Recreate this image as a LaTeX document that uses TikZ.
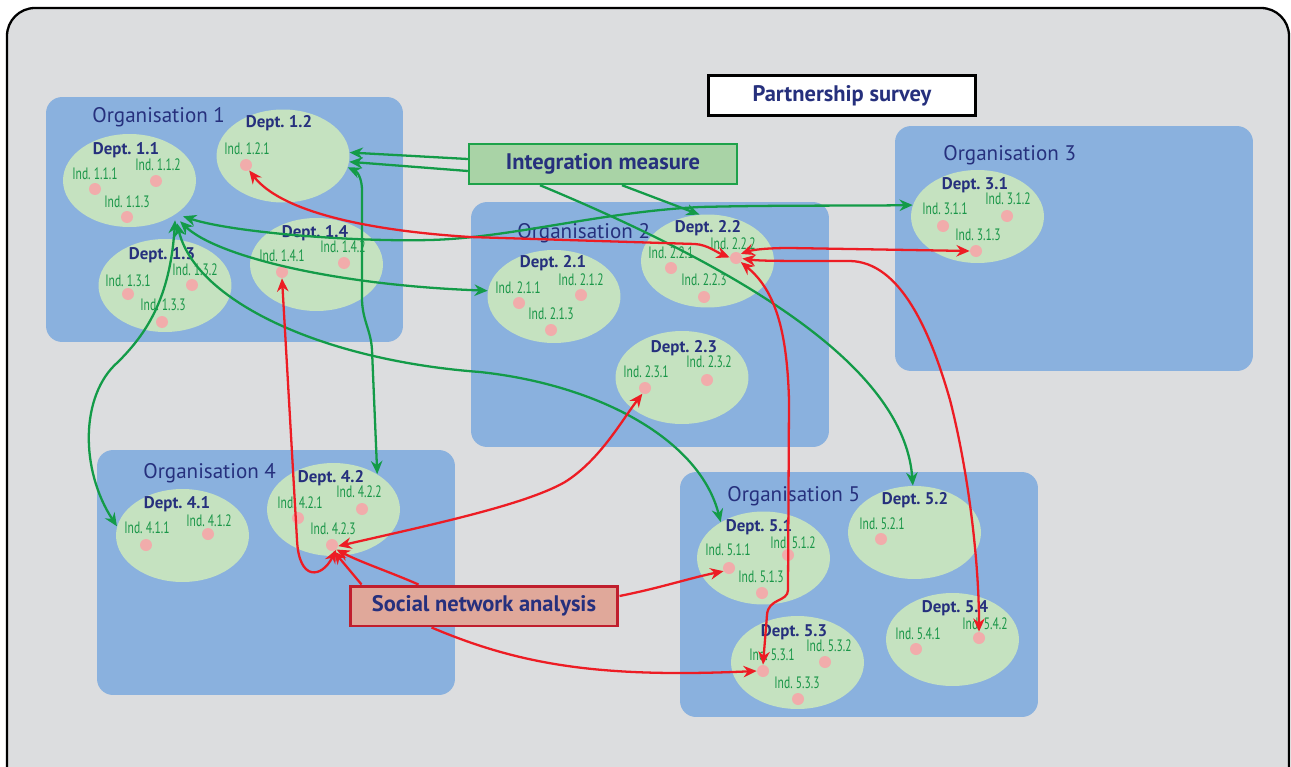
\documentclass[tikz,border=0pt]{standalone}
\usepackage{fontspec}
\setmainfont{PT Sans}
\newfontfamily\condfont[FakeStretch=0.7]{PT Sans}
\frenchspacing
\usetikzlibrary{arrows.meta,shapes.geometric}
\definecolor{bg}{RGB}{220,221,223}
\definecolor{orgblue}{RGB}{138,177,222}
\definecolor{deptgreen}{RGB}{197,226,192}
\definecolor{dotpink}{RGB}{241,172,171}
\definecolor{navy}{RGB}{38,48,125}
\definecolor{indgreen}{RGB}{26,150,72}
\definecolor{lgreen}{RGB}{19,155,72}
\definecolor{lred}{RGB}{237,28,36}
\definecolor{imfill}{RGB}{169,211,166}
\definecolor{imborder}{RGB}{30,162,74}
\definecolor{snafill}{RGB}{224,168,154}
\definecolor{snaborder}{RGB}{192,30,45}
\tikzset{
 orgbox/.style={rectangle, fill=orgblue, rounded corners=0.32cm, minimum width=7.16cm, minimum height=4.9cm, inner sep=0},
 orglab/.style={anchor=base west, inner sep=0, text=navy, font=\fontsize{12}{14}\selectfont},
 dept/.style={ellipse, fill=deptgreen, minimum width=2.66cm, minimum height=1.86cm, inner sep=0},
 deptlab/.style={anchor=base, inner sep=0, text=navy, font=\fontsize{9.6}{11}\selectfont\bfseries},
 dot/.style={circle, fill=dotpink, minimum size=0.24cm, inner sep=0},
 indlab/.style={anchor=base, inner sep=0, text=indgreen, font=\condfont\fontsize{9.4}{10}\selectfont},
 tagbox/.style={rectangle, minimum width=5.36cm, minimum height=0.8cm, inner sep=0, text=navy, font=\fontsize{12.8}{14}\selectfont\bfseries},
 gline/.style={draw=lgreen, line width=1.3pt},
 rline/.style={draw=lred, line width=1.3pt},
 onearrow/.style={-{Stealth[length=7.5pt,width=6.5pt]}},
 twoarrow/.style={{Stealth[length=7.5pt,width=6.5pt]}-{Stealth[length=7.5pt,width=6.5pt]}},
}
\newcommand\indiv[6]{\node[dot] (#1) at (#2,#3) {}; \node[indlab] (#1l) at (#4,#5) {#6};}
\begin{document}
\begin{tikzpicture}[x=0.02cm,y=-0.02cm]
\useasboundingbox (0,0) rectangle (1291,767);
\clip (0,0) rectangle (1291,767);
\draw[line width=1.3pt, fill=bg, rounded corners=0.56cm] (7,8) rectangle (1289,800);
% organisations
\node[orgbox, minimum width=7.14cm] (o1) at (224.5,219.5) {};
\node[orgbox] (o2) at (650,324.5) {};
\node[orgbox] (o3) at (1074,248.5) {};
\node[orgbox] (o4) at (276,572.5) {};
\node[orgbox] (o5) at (859,594.5) {};
\node[orglab] (o1l) at (92,123) {Organisation 1};
\node[orglab] (o2l) at (517,238) {Organisation 2};
\node[orglab] (o3l) at (943,160) {Organisation 3};
\node[orglab] (o4l) at (143,478) {Organisation 4};
\node[orglab] (o5l) at (727,501) {Organisation 5};
% departments
\node[dept] (d11) at (129.5,180.5) {};
\node[dept] (d12) at (283,156) {};
\node[dept] (d13) at (165,285.5) {};
\node[dept] (d14) at (316.5,264.5) {};
\node[dept] (d21) at (554,296.5) {};
\node[dept] (d22) at (707.5,261) {};
\node[dept] (d23) at (682,377.5) {};
\node[dept] (d31) at (977.5,216.5) {};
\node[dept] (d41) at (182.5,535.5) {};
\node[dept] (d42) at (333.5,509.5) {};
\node[dept] (d51) at (763.5,558) {};
\node[dept] (d52) at (914.5,532.5) {};
\node[dept] (d53) at (797.5,662.5) {};
\node[dept] (d54) at (952.5,639.5) {};
\node[deptlab] (d11l) at (126,154) {Dept. 1.1};
\node[deptlab] (d12l) at (279,128) {Dept. 1.2};
\node[deptlab] (d13l) at (162,259) {Dept. 1.3};
\node[deptlab] (d14l) at (315,237) {Dept. 1.4};
\node[deptlab] (d21l) at (553,267) {Dept. 2.1};
\node[deptlab] (d22l) at (708,232) {Dept. 2.2};
\node[deptlab] (d23l) at (684,352) {Dept. 2.3};
\node[deptlab] (d31l) at (975,189) {Dept. 3.1};
\node[deptlab] (d41l) at (177,508) {Dept. 4.1};
\node[deptlab] (d42l) at (331,482) {Dept. 4.2};
\node[deptlab] (d51l) at (759,531) {Dept. 5.1};
\node[deptlab] (d52l) at (915,504) {Dept. 5.2};
\node[deptlab] (d53l) at (794,636) {Dept. 5.3};
\node[deptlab] (d54l) at (955,612) {Dept. 5.4};
% individuals
\indiv{i111}{95}{189}{95}{179}{Ind. 1.1.1}
\indiv{i112}{156}{181}{158}{170}{Ind. 1.1.2}
\indiv{i113}{127}{217}{127}{207}{Ind. 1.1.3}
\indiv{i121}{246}{165}{247}{154}{Ind. 1.2.1}
\indiv{i131}{128}{294}{128}{286}{Ind. 1.3.1}
\indiv{i132}{192}{285}{195}{275}{Ind. 1.3.2}
\indiv{i133}{162}{322}{163}{310}{Ind. 1.3.3}
\indiv{i141}{282}{272}{282}{261}{Ind. 1.4.1}
\indiv{i142}{344}{263}{343}{252}{Ind. 1.4.2}
\indiv{i211}{519}{303}{518}{293}{Ind. 2.1.1}
\indiv{i212}{581}{295}{581}{285}{Ind. 2.1.2}
\indiv{i213}{551}{330}{551}{319}{Ind. 2.1.3}
\indiv{i221}{671}{268}{671}{258}{Ind. 2.2.1}
\indiv{i222}{736}{258}{733}{249}{Ind. 2.2.2}
\indiv{i223}{704}{297}{704}{285}{Ind. 2.2.3}
\indiv{i231}{645}{388}{646}{377}{Ind. 2.3.1}
\indiv{i232}{707}{380}{709}{367}{Ind. 2.3.2}
\indiv{i311}{943}{226}{945}{214}{Ind. 3.1.1}
\indiv{i312}{1007}{216}{1008}{204}{Ind. 3.1.2}
\indiv{i313}{976}{251}{978}{240}{Ind. 3.1.3}
\indiv{i411}{146}{545}{147}{533}{Ind. 4.1.1}
\indiv{i412}{208}{534}{209}{526}{Ind. 4.1.2}
\indiv{i421}{298}{518}{300}{508}{Ind. 4.2.1}
\indiv{i422}{362}{509}{359}{497}{Ind. 4.2.2}
\indiv{i423}{332}{545}{333}{534}{Ind. 4.2.3}
\indiv{i511}{729}{568}{728}{555}{Ind. 5.1.1}
\indiv{i512}{788}{555}{793}{548}{Ind. 5.1.2}
\indiv{i513}{762}{593}{761}{582}{Ind. 5.1.3}
\indiv{i521}{881}{539}{882}{529}{Ind. 5.2.1}
\indiv{i531}{763}{671}{772}{660}{Ind. 5.3.1}
\indiv{i532}{825}{662}{829}{651}{Ind. 5.3.2}
\indiv{i533}{798}{699}{797}{688}{Ind. 5.3.3}
\indiv{i541}{916}{649}{918}{639}{Ind. 5.4.1}
\indiv{i542}{979}{638}{985}{629}{Ind. 5.4.2}
% tags
\node[tagbox, fill=white, draw=black, line width=1.7pt] (ps) at (842,95.5) {Partnership survey};
\node[tagbox, fill=imfill, draw=imborder, line width=1.4pt] (im) at (603,164) {Integration measure};
\node[tagbox, fill=snafill, draw=snaborder, line width=1.7pt] (sna) at (484,606) {Social network analysis};
% green connectors
\draw[gline,twoarrow] ([shift={(2,6)}]d11.-30) .. controls (230,232) and (350,242) .. (430,240) .. controls (510,238) and (600,212) .. (700,207) .. controls (780,205) and (850,206) .. (d31.170);
\draw[gline,twoarrow] ([shift={(-1,11)}]d11.-30) .. controls (215,255) and (330,285) .. (d21.175);
\draw[gline,twoarrow] ([shift={(-4,13)}]d11.-30) .. controls (195,300) and (320,360) .. (480,372) .. controls (600,385) and (700,440) .. (d51.140);
\draw[gline,twoarrow] ([shift={(-6,10)}]d11.-30) .. controls (170,300) and (145,335) .. (118,362) .. controls (80,395) and (80,470) .. (d41.172);
\draw[gline,onearrow] ([shift={(0,-5)}]im.west) -- (d12.3);
\draw[gline,onearrow] ([shift={(0,7)}]im.west) -- (d12.-5);
\draw[gline,twoarrow] (d12.-10) .. controls (358,172) and (362,180) .. (362,190) -- (362,298) .. controls (362,320) and (371,330) .. (372,350) -- (d42.39);
\draw[gline,onearrow] ([shift={(19,0)}]im.south) -- (d22.100);
\draw[gline,onearrow] ([shift={(-63,0)}]im.south) .. controls (780,285) and (905,380) .. (d52.92);
% red connectors
\draw[rline,twoarrow] (i121.-60) .. controls (280,210) and (360,230) .. (470,237) -- (695,244) .. controls (708,245) and (716,252) .. (i222.175);
\draw[rline,twoarrow] (i222.40) .. controls (752,250) and (765,248) .. (790,248) -- (i313.west);
\draw[rline,twoarrow] (i222.-5) .. controls (760,261) and (780,261) .. (850,261) .. controls (900,262) and (930,330) .. (950,400) .. controls (968,470) and (979,560) .. (i542.north);
\draw[rline,twoarrow] (i222.-40) .. controls (775,290) and (787,330) .. (789,400) -- (788,590) .. controls (788,602) and (768,598) .. (767,615) -- (i531.north);
\draw[rline,twoarrow] (i141.south) -- (297,540) .. controls (299,582) and (322,578) .. (i423.-50);
\draw[rline,twoarrow] (i423.-10) .. controls (430,525) and (525,505) .. (565,482) .. controls (600,460) and (622,420) .. (i231.-115);
\draw[rline,onearrow] ([shift={(13,0)}]sna.north west) -- (i423.-75);
\draw[rline,onearrow] ([shift={(70,0)}]sna.north west) .. controls (390,572) and (360,562) .. (i423.-45);
\draw[rline,onearrow] ([shift={(0,-10)}]sna.east) .. controls (660,588) and (690,578) .. (i511.-150);
\draw[rline,onearrow] ([shift={(83,0)}]sna.south west) .. controls (520,665) and (600,678) .. (i531.west);
\end{tikzpicture}
\end{document}
